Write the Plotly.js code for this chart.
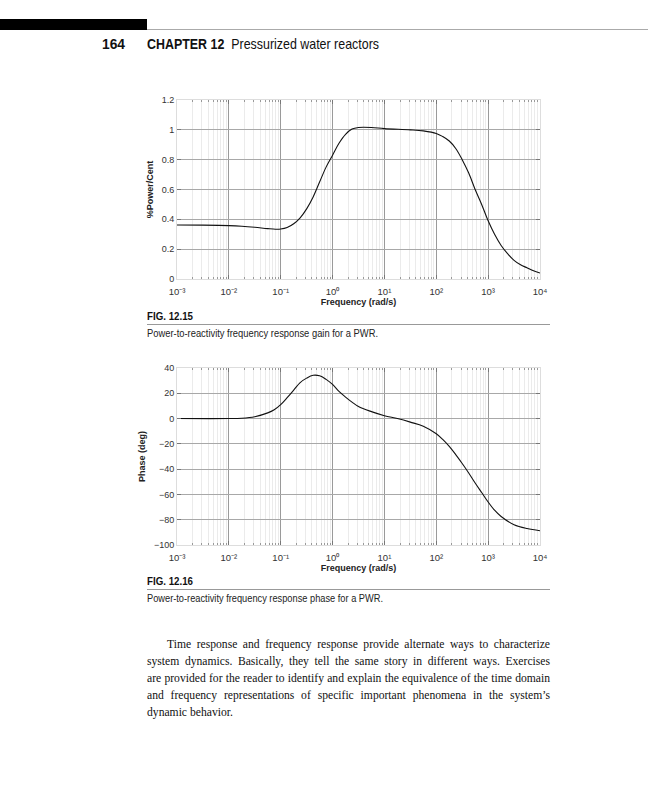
<!DOCTYPE html>
<html><head><meta charset="utf-8">
<script src="https://cdn.plot.ly/plotly-3.0.1.min.js"></script>
<style>
html,body{margin:0;padding:0;background:#fff;}
#page{position:relative;width:648px;height:800px;overflow:hidden;}
#chart{position:absolute;left:0;top:0;width:648px;height:800px;}
.abs{position:absolute;}
.sans{font-family:"Liberation Sans",Arial,sans-serif;white-space:nowrap;transform-origin:0 50%;display:inline-block;}
.pl{position:absolute;left:147px;white-space:nowrap;font-family:'Liberation Serif','DejaVu Serif',serif;color:#111;}
</style></head>
<body><div id="page">
<div id="chart"></div>
<div class="abs" style="left:0;top:19px;width:147px;height:11px;background:#000"></div>
<div class="abs" style="left:147px;top:29px;width:501px;height:1px;background:#aaa"></div>
<div class="abs sans" data-w="23" style="left:102px;top:36px;font-size:14.5px;color:#111;font-weight:bold">164</div>
<div class="abs sans" data-w="232" style="left:147px;top:36px;font-size:14.5px;color:#111"><b>CHAPTER 12</b>&nbsp; Pressurized water reactors</div>
<div class="abs sans" data-w="46" style="left:147px;top:310px;font-size:11px;color:#111;font-weight:bold">FIG. 12.15</div>
<div class="abs" style="left:147px;top:324px;width:403px;height:1px;background:#999"></div>
<div class="abs sans" data-w="231" style="left:147px;top:327px;font-size:10.8px;color:#222">Power-to-reactivity frequency response gain for a PWR.</div>
<div class="abs sans" data-w="46" style="left:147px;top:575px;font-size:11px;color:#111;font-weight:bold">FIG. 12.16</div>
<div class="abs" style="left:147px;top:589px;width:403px;height:1px;background:#999"></div>
<div class="abs sans" data-w="236" style="left:147px;top:592px;font-size:10.8px;color:#222">Power-to-reactivity frequency response phase for a PWR.</div>
<div id="para"></div>
</div>
<script>
// Gain curve (Fig 12.15): frequency (rad/s) and gain
const gainFreq = [0.001, 0.00316, 0.01, 0.0178, 0.0316, 0.0562, 0.0794, 0.1, 0.133, 0.178, 0.237, 0.316, 0.422, 0.562, 0.75, 1, 1.33, 1.78, 2.37, 3.16, 5.62, 10, 31.6, 56.2, 100, 133, 178, 237, 316, 422, 562, 750, 1000, 1330, 1780, 2370, 3160, 4220, 5620, 7500, 10000];
const gainVal  = [0.362, 0.361, 0.358, 0.354, 0.347, 0.338, 0.334, 0.335, 0.345, 0.37, 0.41, 0.47, 0.55, 0.65, 0.75, 0.83, 0.91, 0.97, 1.005, 1.016, 1.016, 1.008, 1.0, 0.993, 0.976, 0.955, 0.925, 0.875, 0.8, 0.71, 0.6, 0.5, 0.39, 0.3, 0.225, 0.17, 0.125, 0.095, 0.075, 0.055, 0.04];
// Phase curve (Fig 12.16)
const phaseFreq = [0.001, 0.01, 0.0178, 0.0316, 0.0562, 0.075, 0.1, 0.133, 0.178, 0.237, 0.316, 0.422, 0.562, 0.75, 1, 1.33, 1.78, 2.37, 3.16, 5.62, 10, 17.8, 31.6, 56.2, 100, 133, 178, 237, 316, 422, 562, 750, 1000, 1330, 1780, 3160, 5620, 10000];
const phaseVal  = [0, 0, 0.3, 1.5, 4.5, 7, 11, 16.5, 22.5, 28.5, 32, 34.2, 33.8, 31, 27, 21.5, 17, 13, 9.5, 5.5, 2.3, 0, -2.8, -6, -12, -16.5, -22, -28.5, -35.5, -43, -51, -58.5, -66, -72.5, -77.5, -84, -87, -88.7];

const xTickVals = [1e-3, 1e-2, 1e-1, 1, 10, 100, 1000, 10000];
const xTickText = ['10⁻³','10⁻²','10⁻¹','10⁰','10¹','10²','10³','10⁴'];
const gainTicks = [0, 0.2, 0.4, 0.6, 0.8, 1, 1.2];
const phaseTicks = [-100, -80, -60, -40, -20, 0, 20, 40];

const paraLines = [
  'Time response and frequency response provide alternate ways to characterize',
  'system dynamics. Basically, they tell the same story in different ways. Exercises',
  'are provided for the reader to identify and explain the equivalence of the time domain',
  'and frequency representations of specific important phenomena in the system’s',
  'dynamic behavior.'
];

const tickFont = {family:'Liberation Sans, Arial, sans-serif', size:9.5, color:'#333'};
const yTickFont = {family:'Liberation Sans, Arial, sans-serif', size:9, color:'#333'};
const titleFont = {family:'Liberation Sans, Arial, sans-serif', size:9, color:'#222', weight:'bold'};

function xAx(anchor){
  return {type:'log', range:[-3,4], domain:[177/648, 540/648], anchor:anchor,
    tickvals:xTickVals, ticktext:xTickText, tickfont:tickFont, ticklabelstandoff:4,
    ticks:'inside', ticklen:4, tickcolor:'#777', mirror:'ticks',
    showline:true, linecolor:'#ddd', linewidth:1,
    showgrid:true, gridcolor:'#9a9a9a', gridwidth:1, zeroline:false,
    minor:{dtick:'D1', showgrid:true, gridcolor:'#ebebeb', gridwidth:1, ticks:'inside', ticklen:2, tickcolor:'#999'},
    title:{text:'Frequency (rad/s)', font:titleFont, standoff:0}};
}
function yAx(anchor, range, ticks, dom, title){
  return {range:range, domain:dom, anchor:anchor, tickvals:ticks, tickfont:yTickFont,
    ticks:'inside', ticklen:4, tickcolor:'#777', mirror:'ticks',
    showline:true, linecolor:'#ddd', linewidth:1,
    showgrid:true, gridcolor:'#a8a8a8', gridwidth:1, zeroline:false,
    title:{text:title, font:titleFont, standoff:6}};
}

const traces = [
  {x:gainFreq, y:gainVal, xaxis:'x', yaxis:'y', type:'scatter', mode:'lines',
   line:{color:'#111', width:1.1, shape:'spline', smoothing:1}, hoverinfo:'skip'},
  {x:phaseFreq, y:phaseVal, xaxis:'x2', yaxis:'y2', type:'scatter', mode:'lines',
   line:{color:'#111', width:1.1, shape:'spline', smoothing:1}, hoverinfo:'skip'}
];

const layout = {
  width:648, height:800, margin:{l:0,r:0,t:0,b:0},
  paper_bgcolor:'rgba(0,0,0,0)', plot_bgcolor:'#fff', showlegend:false,
  xaxis: xAx('y'),
  yaxis: yAx('x', [0,1.2], gainTicks, [1-279/800, 1-100/800], '%Power/Cent'),
  xaxis2: xAx('y2'),
  yaxis2: yAx('x2', [-100,40], phaseTicks, [1-545/800, 1-368/800], 'Phase (deg)')
};
Plotly.newPlot('chart', traces, layout, {staticPlot:true, displayModeBar:false});

// fit sans texts to widths measured on the reference
document.querySelectorAll('[data-w]').forEach(el => {
  const w = el.getBoundingClientRect().width;
  const target = parseFloat(el.getAttribute('data-w'));
  if (w > 0) el.style.transform = 'scaleX(' + (target / w).toFixed(4) + ')';
});

// justified paragraph with the reference's line breaks
(function(){
  const para = document.getElementById('para');
  const width = 403, indent = 20, lineH = 17, top0 = 636;
  const cv = document.createElement('canvas').getContext('2d');
  let fs = 13;
  cv.font = fs + 'px "Liberation Serif"';
  const w3 = cv.measureText(paraLines[2]).width;
  fs = Math.min(13, fs * (width - 4) / w3);
  cv.font = fs + 'px "Liberation Serif"';
  paraLines.forEach((t, i) => {
    const d = document.createElement('div');
    d.className = 'pl';
    d.style.fontSize = fs + 'px';
    d.style.lineHeight = lineH + 'px';
    d.style.top = (top0 + i * lineH) + 'px';
    const ind = i === 0 ? indent : 0;
    d.style.left = (147 + ind) + 'px';
    d.textContent = t;
    if (i < paraLines.length - 1) {
      const nat = cv.measureText(t).width;
      const spaces = (t.match(/ /g) || []).length;
      d.style.wordSpacing = ((width - ind - nat) / spaces).toFixed(3) + 'px';
    }
    para.appendChild(d);
  });
})();
</script>
</body></html>
